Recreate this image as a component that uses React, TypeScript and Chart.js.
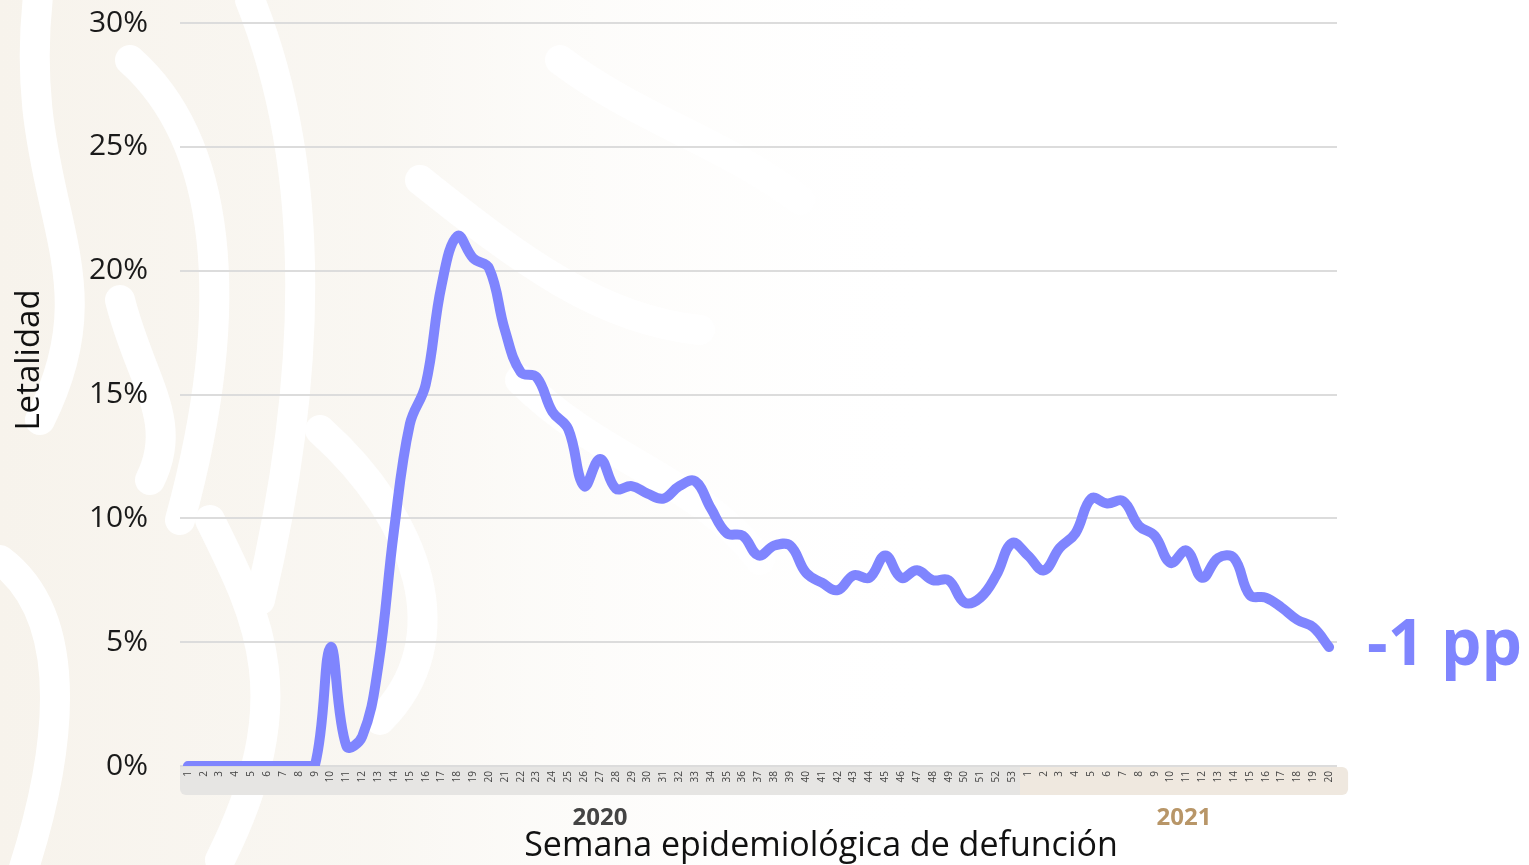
import React, { useEffect, useRef } from 'react';
import { Chart, registerables } from 'chart.js';
Chart.register(...registerables);

const FONT = '"Open Sans", "DejaVu Sans", sans-serif';

const weeks2020 = ['1','2','3','4','5','6','7','8','9','10','11','12','13','14','15','16','17','18','19','20','21','22','23','24','25','26','27','28','29','30','31','32','33','34','35','36','37','38','39','40','41','42','43','44','45','46','47','48','49','50','51','52','53'];
const weeks2021 = ['1','2','3','4','5','6','7','8','9','10','11','12','13','14','15','16','17','18','19','20'];

const lethality2020 = [0,0,0,0,0,0,0,0,0,4.8,0.8,1.2,4.0,9.5,13.8,15.4,19.4,21.4,20.5,20.1,17.6,15.9,15.7,14.3,13.6,11.3,12.4,11.2,11.3,11.0,10.8,11.3,11.5,10.4,9.4,9.3,8.5,8.9,8.9,7.8,7.4,7.1,7.7,7.6,8.5,7.6,7.9,7.5,7.5,6.6,6.8,7.7,9.0];
const lethality2021 = [8.5,7.9,8.8,9.4,10.8,10.6,10.7,9.7,9.3,8.2,8.7,7.6,8.4,8.4,6.9,6.8,6.4,5.9,5.6,4.8];

const yTicks = [0,5,10,15,20,25,30];
const years = ['2020','2021'];
const yearColors = ['#444444','#b89668'];
const yTitle = 'Letalidad';
const xTitle = 'Semana epidemiológica de defunción';
const changeLabel = '-1 pp';
const LINE = '#7f85fe';

export default function App() {
  const ref = useRef<HTMLCanvasElement>(null);
  useEffect(() => {
    document.body.style.margin = '0';
    const labels = [...weeks2020, ...weeks2021];
    const data = [...lethality2020, ...lethality2021];

    const bgPlugin = {
      id: 'bg',
      beforeDraw(chart: any) {
        const c = chart.ctx;
        const { width, height } = chart;
        c.save();
        c.fillStyle = '#ffffff';
        c.fillRect(0, 0, width, height);
        const g = c.createLinearGradient(0, 0, 950, 0);
        g.addColorStop(0, 'rgba(247,243,236,1)');
        g.addColorStop(0.4, 'rgba(248,245,239,0.8)');
        g.addColorStop(1, 'rgba(255,255,255,0)');
        c.fillStyle = g;
        c.fillRect(0, 0, 950, height);
        c.strokeStyle = '#ffffff';
        c.lineCap = 'round';
        c.lineWidth = 30;
        const curves: number[][] = [
          [40, -20, 10, 200, 120, 260, 40, 420],
          [130, 60, 220, 140, 240, 300, 180, 520],
          [0, 560, 80, 620, 60, 760, 20, 880],
          [250, 0, 330, 200, 300, 430, 260, 600],
          [420, 180, 520, 260, 600, 320, 700, 330],
          [320, 430, 420, 520, 460, 640, 380, 720],
          [210, 520, 260, 620, 300, 700, 220, 860],
          [560, 60, 640, 120, 720, 140, 800, 200],
          [520, 380, 600, 460, 700, 480, 760, 560],
          [120, 300, 140, 380, 180, 420, 150, 480],
        ];
        curves.forEach((p) => {
          c.beginPath();
          c.moveTo(p[0], p[1]);
          c.bezierCurveTo(p[2], p[3], p[4], p[5], p[6], p[7]);
          c.stroke();
        });
        const xs = chart.scales.x;
        const step = xs.getPixelForValue(1) - xs.getPixelForValue(0);
        const n20 = weeks2020.length;
        const left = xs.getPixelForValue(0) - step / 2;
        const mid = (xs.getPixelForValue(n20 - 1) + xs.getPixelForValue(n20)) / 2;
        const right = xs.getPixelForValue(labels.length - 1) + step * 1.2;
        const top = chart.chartArea.bottom + 1;
        const h = 28;
        c.fillStyle = '#e6e5e3';
        c.beginPath();
        (c as any).roundRect(left, top, mid - left, h, [0, 0, 0, 6]);
        c.fill();
        c.fillStyle = '#efe8df';
        c.beginPath();
        (c as any).roundRect(mid, top, right - mid, h, [0, 6, 6, 0]);
        c.fill();
        c.restore();
      },
      afterDraw(chart: any) {
        const c = chart.ctx;
        const xs = chart.scales.x;
        const ys = chart.scales.y;
        const step = xs.getPixelForValue(1) - xs.getPixelForValue(0);
        const n20 = weeks2020.length;
        const left = xs.getPixelForValue(0) - step / 2;
        const mid = (xs.getPixelForValue(n20 - 1) + xs.getPixelForValue(n20)) / 2;
        const right = xs.getPixelForValue(labels.length - 1) + step * 1.2;
        c.save();
        c.textAlign = 'center';
        c.textBaseline = 'middle';
        c.font = `bold 24px ${FONT}`;
        c.fillStyle = yearColors[0];
        c.fillText(years[0], (left + mid) / 2, 818);
        c.fillStyle = yearColors[1];
        c.fillText(years[1], (mid + right) / 2, 818);
        c.fillStyle = '#111';
        c.font = `34px ${FONT}`;
        c.fillText(xTitle, 821, 846);
        c.save();
        c.translate(30, 360);
        c.rotate(-Math.PI / 2);
        c.font = `33px ${FONT}`;
        c.fillText(yTitle, 0, 0);
        c.restore();
        const lastX = xs.getPixelForValue(labels.length - 1);
        const lastY = ys.getPixelForValue(data[data.length - 1]);
        c.textAlign = 'left';
        c.font = `bold 64px ${FONT}`;
        c.fillStyle = LINE;
        c.fillText(changeLabel, lastX + 38, lastY);
        c.restore();
      },
    };

    const chart = new Chart(ref.current!, {
      type: 'line',
      data: {
        labels,
        datasets: [
          {
            data,
            borderColor: LINE,
            borderWidth: 10,
            pointRadius: 0,
            tension: 0.4,
            borderCapStyle: 'round',
            borderJoinStyle: 'round',
            fill: false,
          },
        ],
      },
      options: {
        animation: false,
        responsive: true,
        maintainAspectRatio: false,
        layout: { padding: { top: 23, right: 192, left: 0, bottom: 0 } },
        plugins: { legend: { display: false }, tooltip: { enabled: false } },
        scales: {
          x: {
            offset: true,
            grid: { display: false, drawTicks: false },
            border: { display: false },
            afterFit: (s: any) => { s.height = 99; s.paddingLeft = 0; s.paddingRight = 0; },
            ticks: {
              autoSkip: false,
              minRotation: 90,
              maxRotation: 90,
              padding: 5,
              color: '#444',
              font: { size: 10, family: FONT },
            },
          },
          y: {
            min: 0,
            max: 30,
            afterFit: (s: any) => { s.width = 180; s.paddingTop = 0; s.paddingBottom = 0; },
            afterBuildTicks: (s: any) => { s.ticks = yTicks.map((v) => ({ value: v })); },
            grid: { color: '#dcdcdc', lineWidth: 2, drawTicks: false },
            border: { display: false },
            ticks: {
              padding: 32,
              color: '#1a1a1a',
              font: { size: 30, family: FONT },
              callback: (v: any) => `${v}%`,
            },
          },
        },
      },
      plugins: [bgPlugin],
    } as any);
    return () => chart.destroy();
  }, []);
  return (
    <div style={{ position: 'fixed', left: 0, top: 0, width: 1529, height: 865 }}>
      <canvas ref={ref} />
    </div>
  );
}
